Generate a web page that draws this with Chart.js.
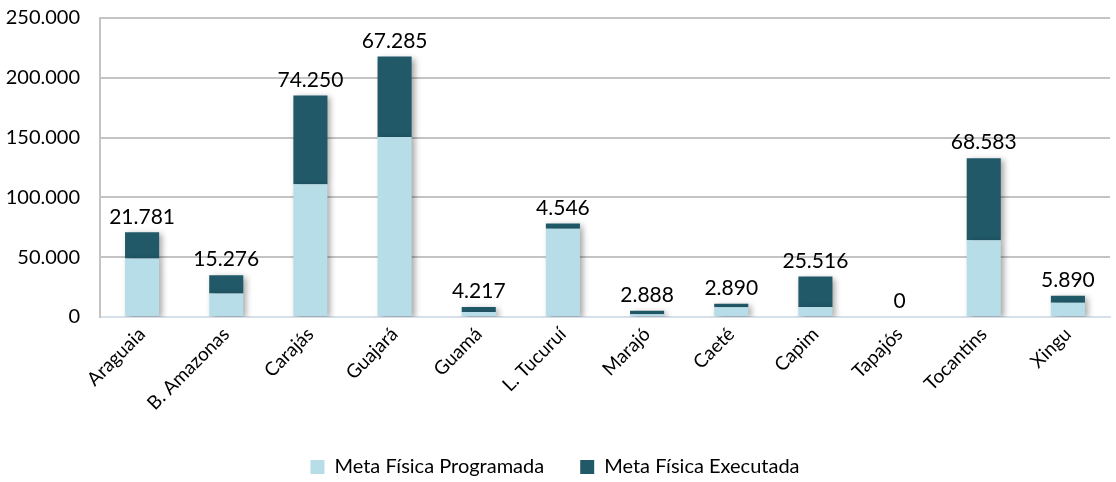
<!DOCTYPE html>
<html>
<head>
<meta charset="utf-8">
<script src="https://cdn.jsdelivr.net/npm/chart.js@4.4.0/dist/chart.umd.min.js"></script>
<style>
  html, body { margin: 0; padding: 0; background: #fff; }
  #wrap { width: 1116px; height: 482px; }
</style>
</head>
<body>
<div id="wrap"><canvas id="chart" width="1116" height="482"></canvas></div>
<script>
// categories and series
const regioes = ["Araguaia", "B. Amazonas", "Carajás", "Guajará", "Guamá", "L. Tucuruí",
  "Marajó", "Caeté", "Capim", "Tapajós", "Tocantins", "Xingu"];
const programada = [49000, 19700, 111000, 150500, 4100, 73700, 2400, 8200, 8300, 0, 64200, 11900];
const executada = [21781, 15276, 74250, 67285, 4217, 4546, 2888, 2890, 25516, 0, 68583, 5890];
const yTicks = [0, 50000, 100000, 150000, 200000, 250000];

const fontName = "Lato, 'Open Sans', sans-serif";

// number with dot as thousands separator
const fmt = (v) => String(Math.round(v)).replace(/\B(?=(\d{3})+(?!\d))/g, ".");

// soft shadow behind the bars
const barShadow = {
  id: "barShadow",
  beforeDatasetsDraw(chart) {
    const ctx = chart.ctx;
    ctx.save();
    ctx.shadowColor = "rgba(0,0,0,0.35)";
    ctx.shadowBlur = 6;
    ctx.shadowOffsetX = 3;
    ctx.shadowOffsetY = 2;
  },
  afterDatasetsDraw(chart) {
    chart.ctx.restore();
  }
};

// executed value written over each stack
const topLabels = {
  id: "topLabels",
  afterDatasetsDraw(chart) {
    const ctx = chart.ctx;
    const meta = chart.getDatasetMeta(1);
    ctx.save();
    ctx.font = "21px " + fontName;
    ctx.fillStyle = "#000";
    ctx.textAlign = "center";
    ctx.textBaseline = "bottom";
    meta.data.forEach((bar, i) => {
      ctx.fillText(fmt(executada[i]), bar.x, bar.y - 5);
    });
    ctx.restore();
  }
};

// keep the wide item spacing but a shorter legend box
const legendHeight = {
  id: "legendHeight",
  beforeLayout(chart) {
    const lg = chart.legend;
    if (lg && !lg._patched) {
      const fit = lg.fit.bind(lg);
      lg.fit = function () {
        fit();
        this.height = 61;
      };
      lg._patched = true;
    }
  }
};

new Chart(document.getElementById("chart"), {
  type: "bar",
  data: {
    labels: regioes,
    datasets: [
      {
        label: "Meta Física Programada",
        data: programada,
        backgroundColor: "#b7dde8",
        categoryPercentage: 1,
        barPercentage: 0.405,
      },
      {
        label: "Meta Física Executada",
        data: executada,
        backgroundColor: "#215968",
        categoryPercentage: 1,
        barPercentage: 0.405,
      },
    ],
  },
  options: {
    responsive: false,
    animation: false,
    layout: { padding: { top: 18, right: 6, left: 0, bottom: 0 } },
    plugins: {
      tooltip: { enabled: false },
      legend: {
        position: "bottom",
        labels: {
          font: { family: fontName, size: 20 },
          color: "#000",
          boxWidth: 14,
          boxHeight: 14,
          padding: 36,
          useBorderRadius: false,
        },
      },
    },
    scales: {
      x: {
        stacked: true,
        grid: { display: false, drawTicks: false },
        border: { color: "#d6e0ea", width: 2 },
        ticks: {
          color: "#000",
          font: { family: fontName, size: 19 },
          maxRotation: 45,
          minRotation: 45,
          padding: 6,
        },
        afterFit: (s) => {
          s.paddingLeft = 0;
          s.paddingRight = 0;
          s.height = 104;
        },
      },
      y: {
        stacked: true,
        min: 0,
        max: 250000,
        afterBuildTicks: (axis) => {
          axis.ticks = yTicks.map((v) => ({ value: v }));
        },
        afterFit: (s) => {
          s.width = 100;
          s.paddingTop = 0;
          s.paddingBottom = 0;
        },
        grid: { color: "#c4c4c4", lineWidth: 2, drawTicks: false },
        border: { color: "#c4c4c4", width: 2 },
        ticks: {
          color: "#000",
          font: { family: fontName, size: 20 },
          padding: 20,
          callback: (v) => fmt(v),
        },
      },
    },
  },
  plugins: [barShadow, topLabels, legendHeight],
});
</script>
</body>
</html>
